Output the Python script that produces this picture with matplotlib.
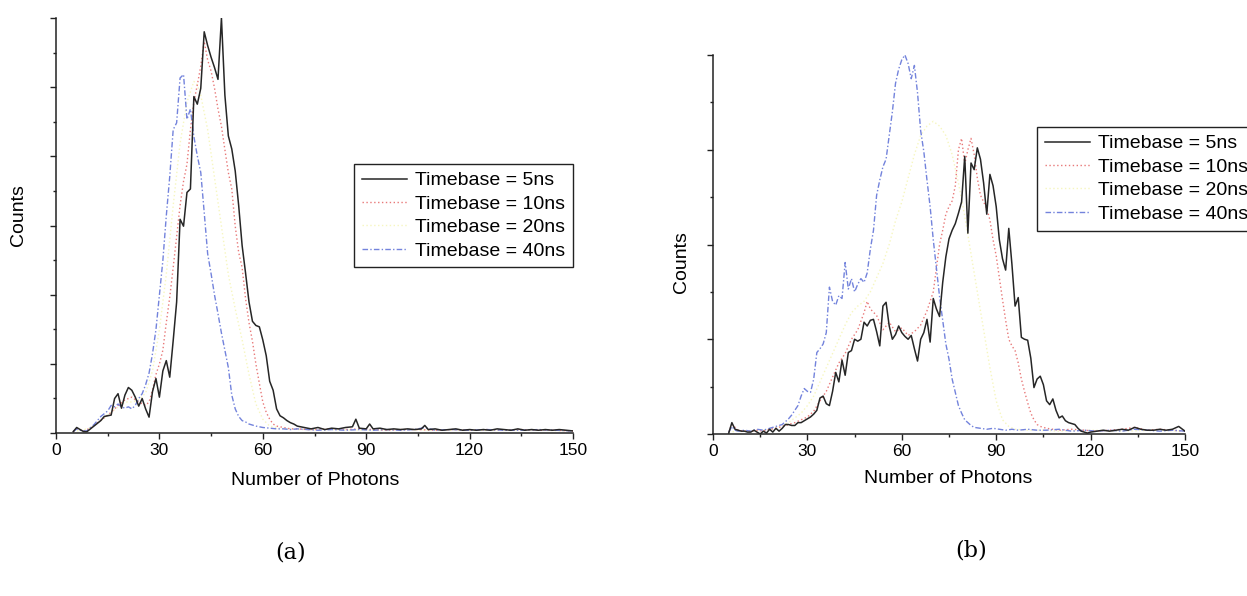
import matplotlib.pyplot as plt
from matplotlib.ticker import MultipleLocator, NullFormatter

plt.rcParams['font.family'] = ['Liberation Sans', 'DejaVu Sans']

# ---- panel (a) ----
a_x_5ns = [5, 6, 7, 8, 9, 10, 11, 12, 13, 14, 15, 16, 17, 18, 19, 20, 21, 22, 23, 24,
           25, 26, 27, 28, 29, 30, 31, 32, 33, 34, 35, 36, 37, 38, 39, 40, 41, 42, 43, 44,
           45, 46, 47, 48, 49, 50, 51, 52, 53, 54, 55, 56, 57, 58, 59, 60, 61, 62, 63, 64,
           65, 66, 67, 68, 69, 70, 72, 74, 76, 78, 80, 82, 84, 86, 87, 88, 90, 91, 92, 94,
           96, 98, 100, 102, 104, 106, 107, 108, 110, 112, 114, 116, 118, 120, 122, 124,
           126, 128, 130, 132, 134, 136, 138, 140, 142, 144, 146, 148, 150]
a_y_5ns = [2, 8, 5, 2, 2, 6, 10, 14, 18, 24, 25, 26, 50, 57, 36, 55, 66, 62, 52, 39,
           50, 35, 23, 60, 79, 52, 90, 105, 81, 134, 190, 310, 300, 349, 354, 488, 477, 500, 582, 562,
           545, 530, 513, 602, 490, 431, 412, 380, 330, 272, 232, 190, 162, 156, 154, 135, 112, 75, 62, 35,
           25, 22, 18, 15, 13, 10, 8, 6, 8, 5, 7, 6, 8, 9, 20, 7, 6, 13, 6, 7,
           5, 6, 5, 6, 5, 6, 11, 5, 6, 4, 5, 6, 4, 5, 4, 5,
           4, 6, 5, 4, 6, 4, 5, 4, 5, 4, 5, 4, 3]

a_x_10ns = [5, 6, 8, 10, 12, 14, 16, 18, 20, 22, 24, 26, 27, 28, 29, 30, 31, 32, 33, 34,
            35, 36, 37, 38, 39, 40, 41, 42, 43, 44, 45, 46, 47, 48, 49, 50, 51, 52, 53, 54,
            55, 56, 57, 58, 59, 60, 61, 62, 63, 64, 66, 68, 70, 73, 76, 80, 84, 88, 92, 96,
            100, 105, 110, 115, 120, 125, 130, 135, 140, 145, 150]
a_y_10ns = [2, 6, 3, 7, 15, 22, 30, 40, 48, 52, 45, 40, 45, 62, 85, 100, 120, 160, 197, 240,
            285, 330, 365, 390, 440, 480, 505, 532, 568, 541, 525, 500, 470, 445, 411, 378, 354, 300, 262, 240,
            195, 160, 133, 100, 72, 45, 30, 20, 13, 10, 8, 6, 6, 5, 5, 6, 5, 6, 5, 4,
            5, 5, 4, 5, 4, 5, 4, 5, 4, 4, 3]

a_x_20ns = [5, 7, 10, 12, 14, 16, 18, 20, 22, 24, 26, 28, 30, 32, 34, 36, 38, 40, 41, 42,
            44, 46, 48, 50, 52, 54, 56, 58, 60, 62, 65, 70, 80, 90, 100, 110, 120, 130, 140, 150]
a_y_20ns = [2, 4, 7, 14, 22, 30, 38, 45, 45, 48, 58, 90, 150, 230, 330, 420, 480, 510, 505, 490,
            440, 370, 300, 230, 180, 135, 85, 42, 20, 10, 7, 5, 5, 4, 5, 4, 4, 4, 4, 3]

a_x_40ns = [5, 6, 7, 8, 9, 10, 11, 12, 13, 14, 15, 16, 17, 18, 19, 20, 21, 22, 23, 24,
            25, 26, 27, 28, 29, 30, 31, 32, 33, 34, 35, 36, 37, 38, 39, 40, 41, 42, 43, 44,
            45, 46, 47, 48, 49, 50, 51, 52, 53, 54, 55, 56, 58, 60, 62, 64, 66, 68, 70, 73,
            76, 80, 84, 88, 92, 96, 100, 104, 107, 110, 115, 120, 125, 130, 135, 140, 145, 150]
a_y_40ns = [2, 6, 4, 3, 3, 8, 12, 18, 24, 28, 32, 40, 38, 42, 38, 36, 38, 35, 40, 50,
            57, 70, 87, 115, 150, 200, 250, 315, 372, 440, 450, 515, 520, 455, 470, 430, 402, 378, 320, 260,
            231, 200, 173, 145, 120, 95, 55, 35, 24, 18, 16, 13, 10, 8, 7, 6, 6, 5, 6, 5,
            4, 5, 4, 5, 4, 5, 4, 5, 8, 4, 5, 4, 5, 4, 4, 5, 4, 3]

# ---- panel (b) ----
b_x_5ns = list(range(5, 121)) + [122, 124, 126, 128, 130, 132, 134, 136, 138, 140, 142, 144, 146, 148, 150]
b_y_5ns = [1, 12, 5, 4, 3, 3, 2, 2, 4, 2, 0, 3, 1, 5, 2, 6, 3, 6, 10, 10,
           9, 9, 12, 12, 14, 16, 18, 21, 25, 38, 40, 32, 30, 45, 65, 55, 78, 62, 86, 88,
           100, 98, 100, 118, 114, 120, 121, 108, 93, 135, 139, 114, 100, 105, 114, 107, 103, 100, 104, 90,
           77, 100, 107, 121, 97, 143, 132, 124, 160, 187, 206, 215, 222, 233, 245, 293, 212, 286, 279, 302,
           290, 265, 232, 274, 262, 240, 205, 185, 173, 217, 179, 135, 144, 102, 100, 99, 80, 49, 58, 61,
           52, 35, 31, 37, 25, 17, 19, 14, 12, 11, 10, 6, 3, 2, 1, 2,
           3, 4, 3, 4, 5, 4, 7, 5, 4, 4, 5, 4, 5, 8, 3]

b_x_10ns = [5, 6, 8, 10, 12, 14, 16, 18, 20, 22, 24, 26, 28, 30, 32, 34, 36, 38, 40, 42,
            44, 46, 48, 49, 50, 52, 54, 56, 58, 60, 62, 64, 66, 68, 70, 71, 72, 73, 74, 75,
            76, 77, 78, 79, 80, 81, 82, 83, 84, 85, 86, 87, 88, 89, 90, 91, 92, 93, 94, 95,
            96, 97, 98, 99, 100, 101, 102, 103, 104, 106, 108, 110, 114, 118, 122, 126, 130, 134, 138, 142,
            146, 150]
b_y_10ns = [2, 10, 4, 3, 3, 4, 3, 5, 6, 8, 10, 12, 15, 18, 24, 35, 45, 60, 75, 85,
            100, 110, 128, 140, 132, 125, 110, 118, 108, 112, 104, 108, 115, 130, 150, 175, 200, 215, 232, 240,
            246, 262, 300, 312, 285, 300, 312, 295, 270, 252, 245, 238, 226, 205, 188, 165, 142, 120, 100, 93,
            88, 75, 58, 45, 33, 22, 15, 10, 8, 6, 5, 4, 5, 4, 3, 4, 5, 7, 4, 5,
            4, 3]

b_x_20ns = [5, 8, 12, 16, 20, 24, 28, 30, 32, 34, 36, 38, 40, 42, 44, 46, 48, 50, 52, 54,
            56, 58, 60, 62, 64, 66, 68, 70, 72, 74, 76, 78, 80, 82, 84, 86, 88, 90, 92, 94,
            96, 100, 105, 110, 120, 130, 140, 150]
b_y_20ns = [2, 3, 3, 4, 6, 12, 22, 30, 40, 55, 70, 85, 100, 115, 128, 135, 140, 150, 165, 180,
            200, 225, 245, 270, 295, 315, 325, 330, 325, 315, 295, 265, 230, 190, 150, 110, 70, 35, 15, 8,
            5, 4, 4, 3, 4, 3, 4, 3]

b_x_40ns = [5, 6, 7, 8, 10, 12, 14, 16, 18, 20, 22, 23, 24, 25, 26, 27, 28, 29, 30, 31,
            32, 33, 34, 35, 36, 37, 38, 39, 40, 41, 42, 43, 44, 45, 46, 47, 48, 49, 50, 51,
            52, 53, 54, 55, 56, 57, 58, 59, 60, 61, 62, 63, 64, 65, 66, 67, 68, 69, 70, 71,
            72, 73, 74, 75, 76, 77, 78, 79, 80, 81, 82, 83, 85, 87, 89, 91, 93, 95, 97, 100,
            103, 106, 110, 114, 118, 122, 126, 130, 134, 138, 142, 146, 150]
b_y_40ns = [2, 8, 4, 3, 4, 3, 5, 4, 6, 8, 10, 13, 16, 20, 25, 30, 40, 48, 45, 44,
            58, 86, 90, 95, 107, 155, 140, 136, 146, 143, 181, 153, 164, 150, 158, 164, 160, 170, 195, 215,
            252, 268, 282, 290, 315, 340, 370, 385, 395, 400, 391, 375, 389, 360, 320, 298, 268, 240, 205, 175,
            145, 120, 95, 79, 58, 44, 30, 22, 15, 12, 9, 7, 6, 5, 6, 5, 4, 5, 4, 5,
            4, 4, 5, 3, 4, 3, 4, 3, 5, 4, 3, 4, 3]

labels = ["Timebase = 5ns", "Timebase = 10ns", "Timebase = 20ns", "Timebase = 40ns"]
colors = ["#262626", "#e87878", "#f6f6bf", "#7383dc"]
styles = ["-", (0, (1, 1.8)), (0, (1, 1.8)), (0, (4, 1.6, 1, 1.6))]
widths = [1.1, 1.0, 1.0, 1.0]

fig = plt.figure(figsize=(12.47, 5.96), dpi=100)
ax_a = fig.add_axes([56/1247, 1-433/596, 517/1247, 415/596])
ax_b = fig.add_axes([713/1247, 1-434/596, 472/1247, 379/596])

panels = [
    (ax_a, [(a_x_5ns, a_y_5ns), (a_x_10ns, a_y_10ns), (a_x_20ns, a_y_20ns), (a_x_40ns, a_y_40ns)], 602),
    (ax_b, [(b_x_5ns, b_y_5ns), (b_x_10ns, b_y_10ns), (b_x_20ns, b_y_20ns), (b_x_40ns, b_y_40ns)], 400),
]

for ax, series, ytop in panels:
    # draw the faint ones first so the black trace sits on top
    order = [2, 1, 3, 0]
    for i in order:
        xs, ys = series[i]
        ax.plot(xs, ys, color=colors[i], linestyle=styles[i], linewidth=widths[i],
                label=labels[i], zorder=2 + (i == 0))
    ax.set_xlim(0, 150)
    ax.set_ylim(0, ytop)
    ax.spines["top"].set_visible(False)
    ax.spines["right"].set_visible(False)
    for s in ("left", "bottom"):
        ax.spines[s].set_linewidth(1.1)
        ax.spines[s].set_color("#222222")
    ax.xaxis.set_major_locator(MultipleLocator(30))
    ax.xaxis.set_minor_locator(MultipleLocator(15))
    ax.yaxis.set_major_formatter(NullFormatter())
    ax.tick_params(axis="both", which="major", direction="out", length=4.5, width=1.0,
                   color="#222222", labelsize=12.5, pad=3)
    ax.tick_params(axis="both", which="minor", direction="out", length=2.5, width=1.0, color="#222222")
    ax.set_xlabel("Number of Photons", fontsize=14)
    ax.set_ylabel("Counts", fontsize=14)

ax_a.yaxis.set_major_locator(MultipleLocator(602/6))
ax_a.yaxis.set_minor_locator(MultipleLocator(602/12))
ax_b.yaxis.set_major_locator(MultipleLocator(100))
ax_b.yaxis.set_minor_locator(MultipleLocator(50))

ax_a.xaxis.set_label_coords(0.501, -0.094)
ax_a.yaxis.set_label_coords(-0.056, 0.525)
ax_b.xaxis.set_label_coords(0.498, -0.095)
ax_b.yaxis.set_label_coords(-0.049, 0.454)

for ax, anchor in ((ax_a, (354/1247, 1-164/596)), (ax_b, (1037/1247, 1-127/596))):
    handles, labs = ax.get_legend_handles_labels()
    lookup = dict(zip(labs, handles))
    leg = ax.legend([lookup[l] for l in labels], labels,
                    loc="upper left", bbox_to_anchor=anchor, bbox_transform=fig.transFigure,
                    fontsize=14, frameon=True, fancybox=False, framealpha=1,
                    edgecolor="#222222", borderaxespad=0, handlelength=2.3,
                    handletextpad=0.45, labelspacing=0.3, borderpad=0.4)
    leg.get_frame().set_linewidth(1.0)

fig.text(291/1247, 1-553/596, "(a)", ha="center", va="center", fontsize=16, family="DejaVu Serif")
fig.text(971/1247, 1-550/596, "(b)", ha="center", va="center", fontsize=16, family="DejaVu Serif")

fig.savefig("out.png", dpi=100)
